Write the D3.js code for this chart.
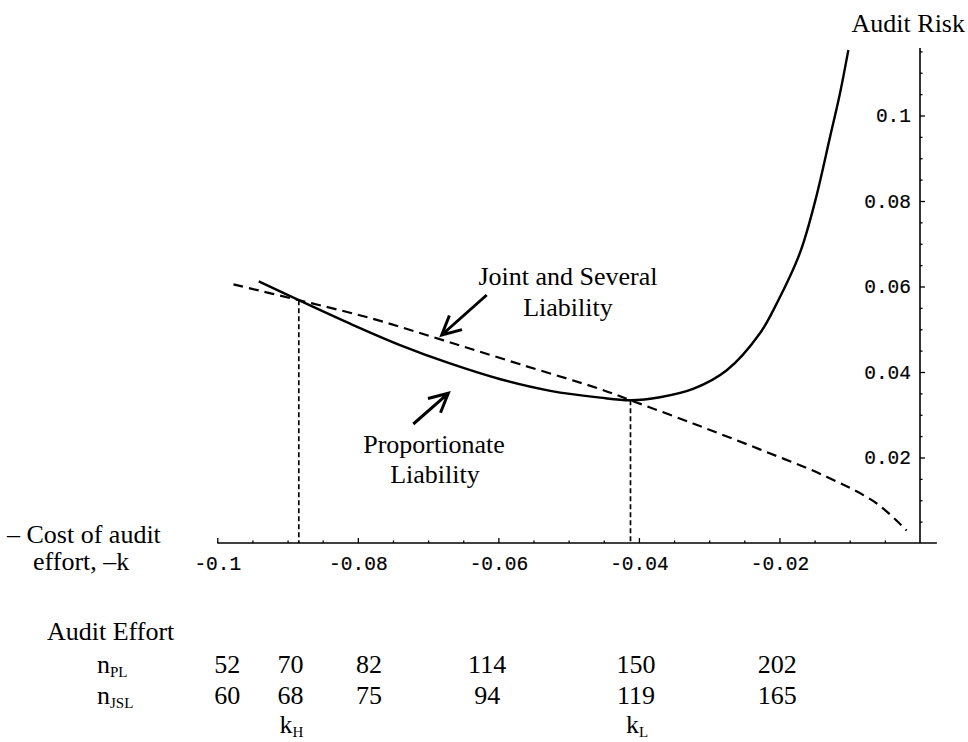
<!DOCTYPE html>
<html>
<head>
<meta charset="utf-8">
<script src="https://cdn.jsdelivr.net/npm/d3@7"></script>
<style>
  body { margin: 0; background: #fff; }
  svg text { fill: #000; }
  .serif { font-family: "Liberation Serif", "Times New Roman", serif; font-size: 26px; }
  .mono { font-family: "Liberation Mono", "Courier New", monospace; font-size: 19.5px; stroke: #000; stroke-width: 0.2px; }
</style>
</head>
<body>
<div id="chart"></div>
<script>
// audit risk against minus the cost of audit effort (-k)

// proportionate liability (solid)
var plCost = [-0.0941, -0.0884, -0.0811, -0.0740, -0.0669, -0.0597, -0.0526, -0.0455,
              -0.0412, -0.0370, -0.0322, -0.0275, -0.0228, -0.0204, -0.0171, -0.0149,
              -0.0128, -0.0114, -0.0102];
var plRisk = [0.0612, 0.0568, 0.0513, 0.0463, 0.0420, 0.0383, 0.0356, 0.0340,
              0.0334, 0.0341, 0.0361, 0.0404, 0.0490, 0.0560, 0.0678, 0.0801,
              0.0950, 0.1051, 0.1153];

// joint and several liability (dashed)
var jslCost = [-0.0977, -0.0884, -0.0782, -0.0678, -0.0569, -0.0455, -0.0412,
               -0.0322, -0.0228, -0.0133, -0.0062, -0.0019];
var jslRisk = [0.0605, 0.0568, 0.0526, 0.0474, 0.0418, 0.0360, 0.0334,
               0.0279, 0.0219, 0.0155, 0.0093, 0.0029];

// the two crossing points, k_H and k_L
var crossCost = [-0.0884, -0.0412];
var crossRisk = [0.0568, 0.0334];

var xTicks = [-0.1, -0.08, -0.06, -0.04, -0.02];
var yTicks = [0.02, 0.04, 0.06, 0.08, 0.1];

// audit effort table, columns sit under these values of -k
var effortCost = [-0.0986, -0.0896, -0.0784, -0.0616, -0.0404, -0.0203];
var nPL = [52, 70, 82, 114, 150, 202];
var nJSL = [60, 68, 75, 94, 119, 165];
var kSub = ["", "H", "", "", "L", ""];

var svgWidth = 968, svgHeight = 742;

var svg = d3.select("#chart")
  .append("svg")
  .attr("width", svgWidth)
  .attr("height", svgHeight);

var x = d3.scaleLinear().domain([-0.1, 0]).range([217.3, 920]);
var y = d3.scaleLinear().domain([0, 0.1]).range([543, 115.5]);

// minor ticks every 0.005
var xMinor = d3.range(0, 21).map(i => +(-0.1 + i * 0.005).toFixed(3))
  .filter(v => xTicks.indexOf(v) < 0 && v !== 0);
var yMinor = d3.range(1, 24).map(i => +(i * 0.005).toFixed(3))
  .filter(v => yTicks.indexOf(v) < 0);

var xAxis = d3.axisBottom(x).tickValues(xTicks)
  .tickSizeInner(-5).tickSizeOuter(0).tickPadding(13)
  .tickFormat(d => String(d));
var xAxisMinor = d3.axisBottom(x).tickValues(xMinor)
  .tickSizeInner(-2.5).tickSizeOuter(0).tickFormat("");

var gx = svg.append("g").attr("transform", `translate(0, ${y(0)})`).call(xAxis);
var gxm = svg.append("g").attr("transform", `translate(0, ${y(0)})`).call(xAxisMinor);

var yAxis = d3.axisLeft(y).tickValues(yTicks)
  .tickSizeInner(-5).tickSizeOuter(0).tickPadding(9)
  .tickFormat(d => String(d));
var yAxisMinor = d3.axisLeft(y).tickValues(yMinor)
  .tickSizeInner(-2.5).tickSizeOuter(0).tickFormat("");

var gy = svg.append("g").attr("transform", `translate(${x(0)}, 0)`).call(yAxis);
var gym = svg.append("g").attr("transform", `translate(${x(0)}, 0)`).call(yAxisMinor);

[gx, gxm, gy, gym].forEach(g => {
  g.select(".domain").remove();
  g.selectAll("line").attr("stroke", "#000").attr("stroke-width", 1.3);
  g.selectAll("text").attr("class", "mono").attr("font-size", null).attr("font-family", null);
});

// axis lines
svg.append("line")
  .attr("x1", x(-0.1)).attr("x2", x(0.0024))
  .attr("y1", y(0)).attr("y2", y(0))
  .attr("stroke", "#000").attr("stroke-width", 1.6);
svg.append("line")
  .attr("x1", x(0)).attr("x2", x(0))
  .attr("y1", y(0)).attr("y2", y(0.1158))
  .attr("stroke", "#000").attr("stroke-width", 1.6);

// dashed drop lines at k_H and k_L
svg.selectAll(".drop")
  .data(d3.zip(crossCost, crossRisk))
  .enter()
  .append("line")
  .attr("class", "drop")
  .attr("x1", d => x(d[0])).attr("x2", d => x(d[0]))
  .attr("y1", d => y(d[1])).attr("y2", y(0))
  .attr("stroke", "#000").attr("stroke-width", 1.7)
  .attr("stroke-dasharray", "5,3");

var line = d3.line()
  .x(d => x(d[0]))
  .y(d => y(d[1]))
  .curve(d3.curveCatmullRom.alpha(0.5));

svg.append("path")
  .datum(d3.zip(jslCost, jslRisk))
  .attr("d", line)
  .attr("fill", "none")
  .attr("stroke", "#000")
  .attr("stroke-width", 2.2)
  .attr("stroke-dasharray", "10,6");

svg.append("path")
  .datum(d3.zip(plCost, plRisk))
  .attr("d", line)
  .attr("fill", "none")
  .attr("stroke", "#000")
  .attr("stroke-width", 2.4);

// arrows: open heads
function arrow(x1, y1, x2, y2) {
  var a = Math.atan2(y1 - y2, x1 - x2);
  var len = 21, spread = 0.47;
  svg.append("path")
    .attr("d", `M${x1},${y1}L${x2},${y2}` +
      `M${x2 + len * Math.cos(a - spread)},${y2 + len * Math.sin(a - spread)}` +
      `L${x2},${y2}` +
      `L${x2 + len * Math.cos(a + spread)},${y2 + len * Math.sin(a + spread)}`)
    .attr("fill", "none")
    .attr("stroke", "#000")
    .attr("stroke-width", 3)
    .attr("stroke-linejoin", "miter");
}
arrow(486.7, 295, 441.7, 335);
arrow(413.3, 424, 448.3, 393.3);

// annotations
function label(txt, px, py, anchor) {
  svg.append("text")
    .attr("class", "serif")
    .attr("x", px).attr("y", py)
    .attr("text-anchor", anchor || "start")
    .text(txt);
}
label("Joint and Several", 568, 285, "middle");
label("Liability", 568, 316, "middle");
label("Proportionate", 434, 453, "middle");
label("Liability", 435, 483, "middle");
label("Audit Risk", 965, 32, "end");
label("\u2013 Cost of audit", 7, 543);
label("effort, \u2013k", 33, 570);
label("Audit Effort", 47, 640);

// row labels with subscripts
function subLabel(main, sub, px, py, anchor) {
  var t = svg.append("text")
    .attr("class", "serif")
    .attr("x", px).attr("y", py)
    .attr("text-anchor", anchor || "start");
  t.append("tspan").text(main);
  t.append("tspan").attr("font-size", "15px").attr("dy", 4).text(sub);
  return t;
}
subLabel("n", "PL", 97, 673);
subLabel("n", "JSL", 97, 704);

// table values
svg.selectAll(".npl")
  .data(d3.zip(effortCost, nPL))
  .enter()
  .append("text")
  .attr("class", "serif npl")
  .attr("x", d => x(d[0]))
  .attr("y", 673)
  .attr("text-anchor", "middle")
  .text(d => d[1]);

svg.selectAll(".njsl")
  .data(d3.zip(effortCost, nJSL))
  .enter()
  .append("text")
  .attr("class", "serif njsl")
  .attr("x", d => x(d[0]))
  .attr("y", 704)
  .attr("text-anchor", "middle")
  .text(d => d[1]);

d3.zip(effortCost, kSub).filter(d => d[1] !== "").forEach(d => {
  subLabel("k", d[1], x(d[0]) + 1, 733, "middle");
});
</script>
</body>
</html>
